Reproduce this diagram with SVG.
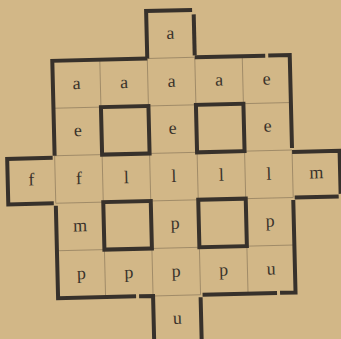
<svg xmlns="http://www.w3.org/2000/svg" width="341" height="339" viewBox="0 0 341 339">
<style>
.thin{fill:none;stroke:#a08b68;stroke-width:1}
.thick{fill:none;stroke:#37312b;stroke-width:4;stroke-linejoin:miter}
.t{font-family:"Liberation Serif","DejaVu Serif",serif;font-size:18px;fill:#3a332b;text-anchor:middle}
</style>
<rect width="341" height="339" fill="#d2b787"/>
<g transform="rotate(-1.4 170 170)">
<g id="grid-thin" class="thin">
<path d="M102.5,58V295.5M150,58V295.5M197.5,58V295.5M245,58V295.5"/>
<path d="M55,105.5H292.5M55,153H292.5M55,200.5H292.5M55,248H292.5"/>
<path d="M150,58H197.5M55,153V200.5M292.5,153V200.5M150,295.5H197.5"/>
</g>
<g id="walls" class="thick">
<path d="M150,58V10.5H196"/>
<path d="M197.5,15V56"/>
<path d="M55,153V58H150"/>
<path d="M197.5,58H268M271,58H292.5V151"/>
<path d="M292.5,155H340V198M338,200.5H294"/>
<path d="M292.5,203V295.5H277M274,295.5H199.5M197.5,298V343"/>
<path d="M53,155H7.5V200.5H53"/>
<path d="M55,203V295.5H133M136,295.5H150V343"/>
<rect x="102.5" y="105.5" width="47.5" height="47.5"/>
<rect x="197.5" y="105.5" width="47.5" height="47.5"/>
<rect x="102.5" y="200.5" width="47.5" height="47.5"/>
<rect x="197.5" y="200.5" width="47.5" height="47.5"/>
</g>
<g id="cells" class="t">
<g id="c-top"><text x="173.75" y="39">a</text></g>
<g id="r0"><text x="78.75" y="87">a</text><text x="126.25" y="87">a</text><text x="173.75" y="87">a</text><text x="221.25" y="87">a</text><text x="268.75" y="87">e</text></g>
<g id="r1"><text x="78.75" y="134">e</text><text x="173.75" y="134">e</text><text x="268.75" y="134">e</text></g>
<g id="r2"><text x="31.25" y="182">f</text><text x="78.75" y="182">f</text><text x="126.25" y="182">l</text><text x="173.75" y="182">l</text><text x="221.25" y="182">l</text><text x="268.75" y="182">l</text><text x="316.25" y="182">m</text></g>
<g id="r3"><text x="78.75" y="229">m</text><text x="173.75" y="229">p</text><text x="268.75" y="229">p</text></g>
<g id="r4"><text x="78.75" y="277">p</text><text x="126.25" y="277">p</text><text x="173.75" y="277">p</text><text x="221.25" y="277">p</text><text x="268.75" y="277">u</text></g>
<g id="c-bottom"><text x="173.75" y="324">u</text></g>
</g>
</g>
</svg>
